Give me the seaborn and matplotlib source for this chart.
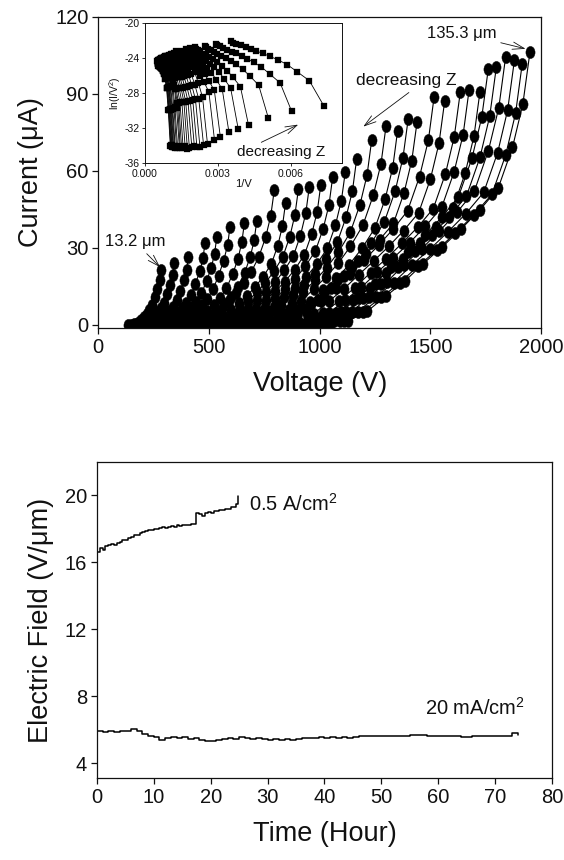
import numpy as np
import pandas as pd
import matplotlib
matplotlib.use("Agg")
import matplotlib.pyplot as plt
import seaborn as sns
from matplotlib.path import Path
from matplotlib.transforms import Affine2D

# ---------------- data: I-V curves for decreasing gap Z (13.2 um ... 135.3 um)
iv_voltage = [
    [136, 148, 160, 171, 183, 195, 207, 219, 230, 242, 254, 267, 277, 283],
    [166, 180, 195, 209, 224, 238, 252, 267, 281, 296, 310, 325, 336, 343],
    [197, 214, 232, 249, 267, 284, 301, 319, 336, 354, 371, 387, 399, 407],
    [235, 255, 276, 296, 317, 337, 357, 378, 398, 419, 439, 458, 473, 482],
    [261, 284, 307, 329, 352, 375, 398, 421, 443, 466, 489, 510, 525, 535],
    [290, 315, 341, 366, 391, 417, 442, 467, 492, 518, 543, 566, 584, 595],
    [323, 351, 380, 408, 437, 465, 493, 522, 550, 579, 607, 631, 648, 660],
    [350, 381, 412, 443, 474, 506, 537, 568, 599, 630, 661, 686, 704, 716],
    [389, 423, 456, 490, 523, 557, 590, 624, 657, 691, 724, 756, 779, 795],
    [415, 452, 488, 525, 562, 599, 635, 672, 709, 745, 782, 811, 832, 846],
    [443, 482, 521, 560, 599, 638, 677, 716, 755, 794, 833, 865, 888, 904],
    [468, 509, 551, 592, 633, 675, 716, 757, 798, 840, 881, 913, 937, 953],
    [493, 537, 581, 624, 668, 712, 756, 800, 843, 887, 931, 964, 989, 1005],
    [520, 566, 612, 658, 704, 751, 797, 843, 889, 935, 981, 1016, 1042, 1059],
    [548, 597, 645, 694, 743, 792, 840, 889, 938, 986, 1035, 1071, 1098, 1116],
    [574, 625, 675, 726, 776, 827, 878, 928, 979, 1029, 1080, 1119, 1148, 1167],
    [607, 660, 713, 766, 819, 873, 926, 979, 1032, 1085, 1138, 1182, 1214, 1235],
    [639, 695, 750, 806, 861, 917, 973, 1028, 1084, 1139, 1195, 1242, 1277, 1300],
    [665, 724, 782, 841, 899, 958, 1016, 1075, 1133, 1192, 1250, 1296, 1330, 1352],
    [689, 749, 810, 870, 930, 991, 1051, 1111, 1171, 1232, 1292, 1341, 1376, 1400],
    [709, 771, 834, 896, 959, 1021, 1083, 1146, 1208, 1271, 1333, 1381, 1416, 1440],
    [747, 812, 877, 942, 1007, 1072, 1137, 1202, 1267, 1332, 1397, 1451, 1491, 1517],
    [771, 839, 906, 974, 1041, 1109, 1177, 1244, 1312, 1379, 1447, 1500, 1539, 1565],
    [805, 876, 947, 1017, 1088, 1159, 1230, 1301, 1371, 1442, 1513, 1568, 1608, 1635],
    [825, 898, 970, 1043, 1115, 1188, 1261, 1333, 1406, 1478, 1551, 1607, 1648, 1675],
    [849, 924, 1000, 1075, 1150, 1226, 1301, 1376, 1451, 1527, 1602, 1657, 1697, 1724],
    [868, 944, 1020, 1096, 1172, 1248, 1323, 1399, 1475, 1551, 1627, 1688, 1732, 1762],
    [886, 964, 1041, 1119, 1197, 1275, 1352, 1430, 1508, 1585, 1663, 1724, 1768, 1798],
    [907, 986, 1065, 1145, 1224, 1303, 1382, 1461, 1541, 1620, 1699, 1762, 1809, 1840],
    [927, 1008, 1090, 1171, 1253, 1334, 1415, 1497, 1578, 1660, 1741, 1804, 1849, 1880],
    [944, 1027, 1111, 1194, 1278, 1361, 1444, 1528, 1611, 1695, 1778, 1840, 1885, 1915],
    [961, 1046, 1130, 1215, 1299, 1384, 1468, 1553, 1637, 1722, 1806, 1871, 1918, 1950],
]

iv_current = [  # micro-amperes
    [0.003, 0.064, 0.21, 0.54, 1.07, 1.82, 2.89, 4.28, 5.67, 7.70, 10.7, 13.9, 17.3, 21.4],
    [0.0025, 0.073, 0.24, 0.61, 1.21, 2.06, 3.27, 4.84, 6.41, 8.71, 12.1, 15.7, 19.6, 24.2],
    [0.0015, 0.080, 0.27, 0.67, 1.33, 2.26, 3.59, 5.32, 7.05, 9.58, 13.3, 17.3, 21.5, 26.6],
    [0.001, 0.096, 0.32, 0.80, 1.60, 2.72, 4.32, 6.40, 8.48, 11.5, 16.0, 20.8, 25.9, 32.0],
    [0.0008, 0.10, 0.34, 0.85, 1.71, 2.90, 4.60, 6.82, 9.04, 12.3, 17.05, 22.2, 27.6, 34.1],
    [0.0007, 0.11, 0.38, 0.96, 1.92, 3.26, 5.17, 7.66, 10.1, 13.8, 19.15, 24.9, 31.0, 38.3],
    [0.0005, 0.12, 0.40, 0.99, 1.98, 3.37, 5.35, 7.92, 10.5, 14.3, 19.8, 25.7, 32.1, 39.6],
    [0.0004, 0.12, 0.41, 1.02, 2.03, 3.45, 5.48, 8.12, 10.8, 14.6, 20.3, 26.4, 32.9, 40.6],
    [0.0003, 0.079, 0.47, 1.84, 3.94, 6.30, 9.45, 12.6, 16.3, 20.7, 26.25, 34.1, 42.5, 52.5],
    [0.0003, 0.071, 0.43, 1.67, 3.57, 5.71, 8.57, 11.4, 14.8, 18.8, 23.8, 30.9, 38.6, 47.6],
    [0.0003, 0.079, 0.48, 1.85, 3.96, 6.34, 9.50, 12.7, 16.4, 20.9, 26.4, 34.3, 42.8, 52.8],
    [0.0003, 0.080, 0.48, 1.88, 4.02, 6.43, 9.65, 12.9, 16.6, 21.2, 26.8, 34.8, 43.4, 53.6],
    [0.0004, 0.082, 0.49, 1.91, 4.09, 6.54, 9.81, 13.1, 16.9, 21.5, 27.25, 35.4, 44.1, 54.5],
    [0.0004, 0.087, 0.52, 2.02, 4.33, 6.92, 10.4, 13.8, 17.9, 22.8, 28.85, 37.5, 46.7, 57.7],
    [0.0004, 0.090, 0.54, 2.09, 4.48, 7.16, 10.7, 14.3, 18.5, 23.6, 29.85, 38.8, 48.4, 59.7],
    [0.0004, 0.097, 0.58, 2.26, 4.84, 7.74, 11.6, 15.5, 20.0, 25.5, 32.25, 41.9, 52.2, 64.5],
    [0.0006, 0.108, 0.65, 2.52, 5.40, 8.64, 13.0, 17.3, 22.3, 28.4, 36.0, 46.8, 58.3, 72.0],
    [0.0006, 0.116, 0.70, 2.71, 5.81, 9.30, 14.0, 18.6, 24.0, 30.6, 38.75, 50.4, 62.8, 77.5],
    [0.0006, 0.113, 0.68, 2.65, 5.67, 9.07, 13.6, 18.1, 23.4, 29.9, 37.8, 49.1, 61.2, 75.6],
    [0.0006, 0.120, 0.72, 2.81, 6.02, 9.62, 14.4, 19.2, 24.9, 31.7, 40.1, 52.1, 65.0, 80.2],
    [0.0008, 0.079, 1.19, 3.95, 8.30, 12.6, 17.8, 22.5, 27.7, 33.2, 39.5, 51.4, 64.0, 79.0],
    [0.0008, 0.089, 1.33, 4.44, 9.32, 14.2, 20.0, 25.3, 31.1, 37.3, 44.4, 57.7, 71.9, 88.8],
    [0.0008, 0.087, 1.31, 4.37, 9.17, 14.0, 19.6, 24.9, 30.6, 36.7, 43.65, 56.7, 70.7, 87.3],
    [0.0008, 0.091, 1.36, 4.53, 9.50, 14.5, 20.4, 25.8, 31.7, 38.0, 45.25, 58.8, 73.3, 90.5],
    [0.0011, 0.092, 1.37, 4.58, 9.61, 14.6, 20.6, 26.1, 32.0, 38.4, 45.75, 59.5, 74.1, 91.5],
    [0.0011, 0.091, 1.36, 4.54, 9.52, 14.5, 20.4, 25.8, 31.7, 38.1, 45.35, 59.0, 73.5, 90.7],
    [0.0011, 0.100, 1.50, 4.99, 10.5, 16.0, 22.5, 28.4, 34.9, 41.9, 49.9, 64.9, 80.8, 99.8],
    [0.0011, 0.100, 1.50, 5.02, 10.5, 16.0, 22.6, 28.6, 35.1, 42.1, 50.15, 65.2, 81.2, 100.3],
    [0.0015, 0.104, 1.56, 5.22, 11.0, 16.7, 23.5, 29.7, 36.5, 43.8, 52.15, 67.8, 84.5, 104.3],
    [0.0015, 0.103, 1.55, 5.16, 10.8, 16.5, 23.2, 29.4, 36.1, 43.3, 51.6, 67.1, 83.6, 103.2],
    [0.0015, 0.102, 1.53, 5.09, 10.7, 16.3, 22.9, 29.0, 35.6, 42.7, 50.85, 66.1, 82.4, 101.7],
    [0.0015, 0.106, 1.59, 5.32, 11.2, 17.0, 23.9, 30.3, 37.2, 44.6, 53.15, 69.1, 86.1, 106.3],
]

# ---------------- data: lifetime test (electric field vs time)
t_high = [0, 0.5, 1, 1.5, 2, 2.5, 3, 3.5, 4, 4.5, 5, 5.5, 6, 6.5, 7, 7.5, 8, 8.5, 9, 9.5,
          10, 10.5, 11, 11.5, 12, 12.5, 13, 13.5, 14, 14.5, 15, 15.5, 16, 16.5, 17, 17.5,
          18, 18.5, 19, 19.5, 20, 20.5, 21, 21.5, 22, 22.5, 23, 23.5, 24, 24.5, 24.8]
field_high = [16.6, 16.85, 16.75, 16.95, 17.0, 17.1, 17.05, 17.15, 17.2, 17.3, 17.3, 17.45,
              17.5, 17.6, 17.6, 17.75, 17.8, 17.85, 17.9, 17.95, 18.0, 18.0, 18.05, 18.1,
              18.05, 18.1, 18.15, 18.1, 18.2, 18.15, 18.2, 18.25, 18.2, 18.3, 18.3, 18.95,
              18.9, 18.75, 18.95, 19.0, 18.95, 19.05, 19.05, 19.1, 19.1, 19.2, 19.2, 19.3,
              19.3, 19.45, 19.95]

t_low = [0, 1, 2, 3, 4, 5, 6, 7, 8, 9, 10, 11, 12, 13, 14, 15, 16, 17, 18, 19, 20, 21, 22,
         23, 24, 25, 26, 27, 28, 29, 30, 31, 32, 33, 34, 35, 36, 37, 38, 39, 40, 41, 42, 43,
         44, 45, 46, 47, 48, 49, 50, 51, 52, 53, 54, 55, 56, 57, 58, 59, 60, 61, 62, 63, 64,
         65, 66, 67, 68, 69, 70, 71, 72, 73, 74]
field_low = [5.95, 5.85, 5.92, 5.88, 5.95, 5.9, 6.05, 5.95, 5.75, 5.6, 5.55, 5.4, 5.5, 5.55,
             5.5, 5.55, 5.45, 5.5, 5.4, 5.35, 5.3, 5.38, 5.45, 5.5, 5.42, 5.55, 5.5, 5.45,
             5.5, 5.42, 5.38, 5.42, 5.38, 5.43, 5.4, 5.47, 5.5, 5.52, 5.5, 5.55, 5.52, 5.55,
             5.5, 5.55, 5.52, 5.58, 5.6, 5.62, 5.6, 5.63, 5.62, 5.63, 5.6, 5.65, 5.63, 5.66,
             5.7, 5.66, 5.64, 5.65, 5.62, 5.63, 5.6, 5.62, 5.58, 5.55, 5.6, 5.62, 5.63, 5.6,
             5.62, 5.65, 5.63, 5.78, 5.7]

top_xticks = [0, 500, 1000, 1500, 2000]
top_yticks = [0, 30, 60, 90, 120]
inset_xticks = [0.000, 0.003, 0.006]
inset_yticks = [-20, -24, -28, -32, -36]
bot_xticks = [0, 10, 20, 30, 40, 50, 60, 70, 80]
bot_yticks = [4, 8, 12, 16, 20]

# ---------------- tables
rows = []
for cid, (vs, cs) in enumerate(zip(iv_voltage, iv_current)):
    for v, c in zip(vs, cs):
        rows.append((cid, v, c))
iv_df = pd.DataFrame(rows, columns=["curve", "voltage", "current"])
iv_df["inv_v"] = 1.0 / iv_df["voltage"]
iv_df["ln_iv2"] = np.log(iv_df["current"] * 1e-6 / iv_df["voltage"] ** 2)

life_hi = pd.DataFrame({"t": t_high, "E": field_high})
life_lo = pd.DataFrame({"t": t_low, "E": field_low})

# ---------------- style
sns.set_theme(style="ticks")
ink = "#111111"
plt.rcParams.update({
    "font.family": ["Liberation Sans", "DejaVu Sans"],
    "mathtext.fontset": "custom",
    "mathtext.rm": "Liberation Sans",
    "mathtext.it": "Liberation Sans:italic",
    "axes.unicode_minus": False,
    "axes.edgecolor": ink,
    "axes.linewidth": 0.9,
    "text.color": ink,
    "axes.labelcolor": ink,
    "xtick.color": ink,
    "ytick.color": ink,
})

ellipse = Path.unit_circle().transformed(Affine2D().scale(0.75, 1.0))

fig = plt.figure(figsize=(5.64, 8.6), dpi=100)

# ---------------- top: I-V curves
ax1 = fig.add_axes([0.1743, 0.6183, 0.785, 0.3623])
sns.lineplot(data=iv_df, x="voltage", y="current", units="curve", estimator=None,
             sort=False, color="black", lw=0.8, marker=ellipse, markersize=8.8,
             mfc="black", mec="black", mew=0.3, legend=False, ax=ax1)
ax1.set_xlim(0, 2000)
ax1.set_ylim(-1.3, 120)
ax1.set_xticks(top_xticks)
ax1.set_yticks(top_yticks)
ax1.tick_params(direction="out", length=4, width=0.9, labelsize=14.5, pad=3)
ax1.set_xlabel("Voltage (V)", fontsize=19.5, labelpad=10)
ax1.set_ylabel("Current (μA)", fontsize=19.5, labelpad=8)

arrow_kw = dict(arrowstyle="->,head_length=0.7,head_width=0.22", lw=0.6, color=ink,
                shrinkA=1, shrinkB=0)
ax1.annotate("13.2 μm", xy=(279, 22.5), xytext=(166, 32.3), ha="center", va="center",
             fontsize=12, arrowprops=arrow_kw)
ax1.annotate("135.3 μm", xy=(1930, 107.5), xytext=(1640, 113.6), ha="center",
             va="center", fontsize=12, arrowprops=arrow_kw)
ax1.text(1391, 95, "decreasing Z", ha="center", va="center", fontsize=12.5)
ax1.annotate("", xy=(1197, 77.2), xytext=(1408, 90.8), arrowprops=arrow_kw)

# ---------------- inset: Fowler-Nordheim plot
ax_in = fig.add_axes([0.2571, 0.8105, 0.3493, 0.1622])
ax_in.set_facecolor("white")
sns.lineplot(data=iv_df, x="inv_v", y="ln_iv2", units="curve", estimator=None,
             sort=False, color="black", lw=0.6, marker="s", markersize=4.2,
             mfc="black", mec="black", mew=0.2, legend=False, ax=ax_in)
ax_in.set_xlim(0, 0.0081)
ax_in.set_ylim(-36, -20)
ax_in.set_xticks(inset_xticks)
ax_in.set_yticks(inset_yticks)
ax_in.xaxis.set_major_formatter(matplotlib.ticker.FormatStrFormatter("%.3f"))
ax_in.tick_params(direction="out", length=2.5, width=0.6, labelsize=7.5, pad=1.5)
for s in ax_in.spines.values():
    s.set_linewidth(0.7)
ax_in.set_xlabel("1/V", fontsize=8, labelpad=0.5)
ax_in.set_ylabel("ln(I/V$^2$)", fontsize=7.5, labelpad=1)
ax_in.text(0.00559, -34.7, "decreasing Z", ha="center", va="center", fontsize=11)
ax_in.annotate("", xy=(0.0063, -31.6), xytext=(0.00473, -33.7), arrowprops=arrow_kw)

# ---------------- bottom: electric field vs time
ax2 = fig.add_axes([0.1718, 0.095, 0.8069, 0.3681])
sns.lineplot(data=life_hi, x="t", y="E", estimator=None, sort=False, color="black",
             lw=1.1, drawstyle="steps-post", legend=False, ax=ax2)
sns.lineplot(data=life_lo, x="t", y="E", estimator=None, sort=False, color="black",
             lw=1.1, drawstyle="steps-post", legend=False, ax=ax2)
ax2.set_xlim(0, 80)
ax2.set_ylim(3.1, 22)
ax2.set_xticks(bot_xticks)
ax2.set_yticks(bot_yticks)
ax2.tick_params(direction="out", length=4, width=0.9, labelsize=14.5, pad=3)
ax2.set_xlabel("Time (Hour)", fontsize=19.5, labelpad=10)
ax2.set_ylabel("Electric Field (V/μm)", fontsize=19.5, labelpad=8)
ax2.text(26.7, 19.5, "0.5 A/cm$^2$", ha="left", va="center", fontsize=14.5)
ax2.text(57.7, 7.3, "20 mA/cm$^2$", ha="left", va="center", fontsize=14.5)

fig.savefig("out.png", dpi=100)
